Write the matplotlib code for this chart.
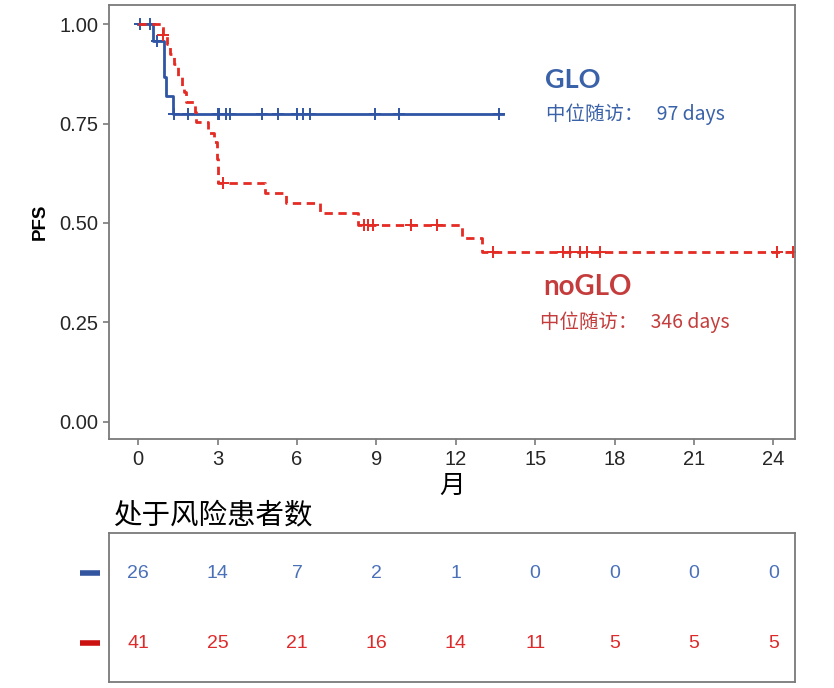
import numpy as np
import matplotlib
matplotlib.use("Agg")
import matplotlib.pyplot as plt

# Kaplan-Meier steps (months, PFS)
glo_t = [0, 0.54, 0.98, 1.03, 1.32, 13.78]
glo_s = [1.0, 0.958, 0.868, 0.819, 0.774, 0.774]
glo_cens = [0.06, 0.44, 0.70, 1.35, 1.86, 3.02, 3.06, 3.31, 3.47, 4.66, 5.29,
            6.01, 6.21, 6.49, 8.95, 9.85, 13.64]

noglo_t = [0, 0.92, 1.07, 1.20, 1.35, 1.51, 1.64, 1.73, 1.80, 2.14, 2.20, 2.62,
           2.85, 2.98, 3.01, 4.79, 5.58, 6.87, 8.31, 12.22, 12.98, 24.82]
noglo_s = [1.0, 0.972, 0.951, 0.926, 0.899, 0.870, 0.845, 0.830, 0.805, 0.780,
           0.754, 0.727, 0.703, 0.66, 0.600, 0.575, 0.551, 0.524, 0.496, 0.463,
           0.428, 0.428]
noglo_cens = [0.95, 3.21, 8.53, 8.69, 8.88, 10.29, 11.30, 13.42, 16.06, 16.31,
              16.69, 16.95, 17.45, 24.13, 24.75]

risk_times = [0, 3, 6, 9, 12, 15, 18, 21, 24]
risk_glo = [26, 14, 7, 2, 1, 0, 0, 0, 0]
risk_noglo = [41, 25, 21, 16, 14, 11, 5, 5, 5]

blue = "#2f55a4"
red = "#e42b24"
gray = "#7a7a7a"
cjk = ["Noto Sans CJK SC", "DejaVu Sans"]

plt.rcParams["font.family"] = ["Liberation Sans", "DejaVu Sans"]

fig = plt.figure(figsize=(8.34, 6.88), dpi=100)
ax = fig.add_axes([0.1307, 0.3615, 0.8225, 0.6312])


def level_at(times, surv, x):
    idx = np.searchsorted(times, x, side="right") - 1
    return [surv[i] for i in idx]


ax.step(glo_t, glo_s, where="post", color=blue, lw=2.0)
ax.plot(glo_cens, level_at(glo_t, glo_s, glo_cens), ls="none", marker="+",
        ms=8, mew=1.4, color=blue)
ax.step(noglo_t, noglo_s, where="post", color=red, lw=2.0, ls=(0, (3.0, 2.0)))
ax.plot(noglo_cens, level_at(noglo_t, noglo_s, noglo_cens), ls="none",
        marker="+", ms=8, mew=1.4, color=red)

ax.set_xlim(-1.107, 24.82)
ax.set_ylim(-0.044, 1.048)
ax.set_xticks(risk_times)
ax.set_yticks([0, 0.25, 0.5, 0.75, 1.0])
ax.set_yticklabels(["0.00", "0.25", "0.50", "0.75", "1.00"])
ax.tick_params(labelsize=14.5, colors="#262626", length=4, width=1.2)
ax.tick_params(axis="both", color=gray)
for s in ax.spines.values():
    s.set_color(gray)
    s.set_linewidth(1.3)
ax.set_ylabel("PFS", fontsize=13.5, fontweight="bold", labelpad=8)
ax.set_xlabel("月", family=cjk, fontsize=18.5, labelpad=3)

ax.text(545, 80, "GLO", transform=None, fontsize=19.5, fontweight="bold",
        color="#3a62a8", family=["Lato", "DejaVu Sans"], va="center")
ax.text(546, 114, "中位随访：   97 days", transform=None, fontsize=14,
        color="#3a62a8", family=cjk, va="center")
ax.text(543, 287, "noGLO", transform=None, fontsize=20, fontweight="bold",
        color="#c43c3c", family=["Lato", "DejaVu Sans"], va="center")
ax.text(540, 322, "中位随访：   346 days", transform=None, fontsize=14,
        color="#c43c3c", family=cjk, va="center")

# pixel text uses display coords from the top, so flip y
for t in ax.texts:
    x, y = t.get_position()
    t.set_position((x, 688 - y))

fig.text(113 / 834, 1 - 515 / 688, "处于风险患者数", family=cjk, fontsize=20.5,
         va="center", ha="left")

# risk table
rt = fig.add_axes([0.1307, 0.00916, 0.8225, 0.2166])
rt.set_xlim(-1.107, 24.82)
rt.set_ylim(-0.549, 1.58)
for x, g, n in zip(risk_times, risk_glo, risk_noglo):
    rt.text(x, 1, str(g), color="#4a70b8", fontsize=14, ha="center", va="center")
    rt.text(x, 0, str(n), color="#de2a2a", fontsize=14, ha="center", va="center")
rt.set_xticks([])
rt.set_yticks([])
for s in rt.spines.values():
    s.set_color(gray)
    s.set_linewidth(1.3)
rt.plot([-2.2, -1.45], [1, 1], color="#3355a0", lw=4, solid_capstyle="butt",
        clip_on=False)
rt.plot([-2.2, -1.45], [0, 0], color="#cc1111", lw=4, solid_capstyle="butt",
        clip_on=False)

fig.savefig("out.png", dpi=100)
